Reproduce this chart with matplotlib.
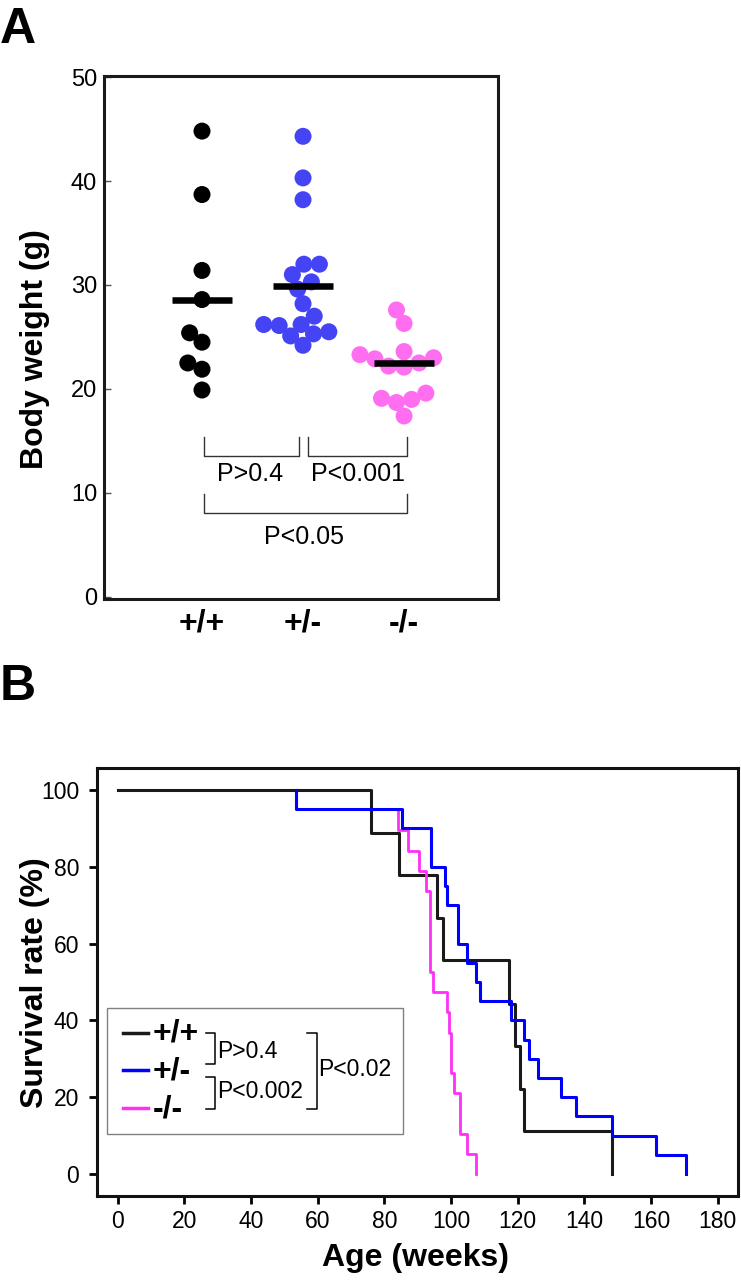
import numpy as np
import matplotlib
matplotlib.use('Agg')
import matplotlib.pyplot as plt
from matplotlib.patches import Rectangle
from matplotlib.lines import Line2D

plt.rcParams['font.family'] = ['Liberation Sans', 'DejaVu Sans']

# ---- panel A: body weight per genotype ----
genotypes = ['+/+', '+/-', '-/-']
weight_wt = [44.8, 38.7, 31.4, 28.6, 25.4, 24.5, 22.5, 21.9, 19.9]
weight_het = [44.3, 40.3, 38.2, 32.0, 32.0, 31.0, 30.3, 29.6, 28.2, 27.0,
              26.2, 26.2, 26.1, 25.5, 25.3, 25.1, 24.2]
weight_ko = [27.6, 26.3, 23.6, 23.3, 23.0, 22.9, 22.5, 22.2, 22.1,
             19.6, 19.1, 19.0, 18.7, 17.4]
weight_means = [28.6, 29.9, 22.5]

# ---- panel B: survival curves (Kaplan-Meier steps) ----
wt_weeks = [0, 76.0, 84.5, 95.9, 97.7, 117.3, 119.2, 120.7, 122.0, 148.2]
wt_surv = [100, 88.9, 77.8, 66.7, 55.6, 44.4, 33.3, 22.2, 11.1, 0]
het_weeks = [53.5, 53.5, 85.2, 94.0, 98.2, 98.7, 102.0, 104.7, 107.4, 108.7,
             118.0, 122.0, 123.4, 126.2, 132.9, 137.5, 148.4, 161.5, 170.4]
het_surv = [100, 95, 90, 80, 75, 70, 60, 55, 50, 45,
            40, 35, 30, 25, 20, 15, 10, 5, 0]
ko_weeks = [84.0, 84.0, 87.2, 90.5, 92.5, 93.7, 94.5, 98.7, 99.4, 100.0,
            100.9, 102.7, 104.9, 107.5]
ko_surv = [94.7, 89.5, 84.2, 78.9, 73.7, 52.6, 47.4, 42.1, 36.8, 26.3,
           21.1, 10.5, 5.3, 0]

W, H = 741, 1280


def fx(px):
    return px / W


def fy(py):
    return 1 - py / H


def swarm_offsets(vals, yscale, xscale, gap):
    """simple beeswarm: place each point nearest the centre without overlap"""
    ys = np.asarray(vals) * yscale
    placed = []
    offs = np.zeros(len(ys))
    for i in np.argsort(ys):
        y = ys[i]
        cands = [0.0]
        for px, py in placed:
            dy = abs(y - py)
            if dy < gap:
                dx = np.sqrt(gap ** 2 - dy ** 2)
                cands += [px - dx, px + dx]
        cands.sort(key=abs)
        for c in cands:
            if all((c - px) ** 2 + (y - py) ** 2 >= gap ** 2 - 1e-6 for px, py in placed):
                offs[i] = c
                placed.append((c, y))
                break
    return offs / xscale


fig = plt.figure(figsize=(W / 100, H / 100), dpi=100)

# ================= Panel A =================
axA = fig.add_axes([fx(104), fy(599), fx(498 - 104), (599 - 76) / H])
axA.set_xlim(-0.97, 2.93)
axA.set_ylim(-0.2, 50.1)

dot_colors = ['#000000', '#4444f4', '#ff6ef0']
for i, (vals, col) in enumerate(zip([weight_wt, weight_het, weight_ko], dot_colors)):
    offs = swarm_offsets(vals, 10.4, 101.0, 15.5)
    axA.scatter(i + offs, vals, s=150, color=col, edgecolors='none', zorder=2)
    axA.plot([i - 0.3, i + 0.3], [weight_means[i]] * 2, color='black',
             lw=4.7, solid_capstyle='butt', zorder=3)

# significance brackets
br = dict(color='#333333', lw=1.0)
axA.plot([0.02, 0.02, 0.96, 0.96], [15.4, 13.6, 13.6, 15.4], **br)
axA.plot([1.05, 1.05, 2.03, 2.03], [15.4, 13.6, 13.6, 15.4], **br)
axA.plot([0.02, 0.02, 2.03, 2.03], [9.9, 8.1, 8.1, 9.9], **br)
axA.text(0.475, 11.8, 'P>0.4', ha='center', va='center', fontsize=18)
axA.text(1.545, 11.8, 'P<0.001', ha='center', va='center', fontsize=18)
axA.text(1.01, 5.8, 'P<0.05', ha='center', va='center', fontsize=18)

axA.set_yticks([0, 10, 20, 30, 40, 50])
axA.tick_params(axis='y', direction='in', length=5, width=1, color='#555555',
                labelsize=17, pad=5)
axA.set_xticks([0, 1, 2])
axA.set_xticklabels(genotypes, fontsize=23, fontweight='bold')
axA.tick_params(axis='x', length=0, pad=7)
for sp in axA.spines.values():
    sp.set_linewidth(2.2)
    sp.set_color('#1a1a1a')

fig.text(fx(35), fy(349), 'Body weight (g)', rotation=90, ha='center',
         va='center', fontsize=23, fontweight='bold')
fig.text(0, fy(43), 'A', ha='left', va='baseline', fontsize=36, fontweight='bold')

# ================= Panel B =================
axB = fig.add_axes([fx(97), fy(1196), fx(738 - 97), (1196 - 768) / H])
axB.set_xlim(-6.2, 186.1)
axB.set_ylim(-5.7, 105.7)

axB.step(wt_weeks, wt_surv, where='post', color='#1a1a1a', lw=2.2, zorder=2)
axB.step(ko_weeks, ko_surv, where='post', color='#ff30f5', lw=2.0, zorder=3)
axB.step(het_weeks, het_surv, where='post', color='#0000ff', lw=2.2, zorder=4)

axB.set_xticks(np.arange(0, 181, 20))
axB.set_yticks(np.arange(0, 101, 20))
axB.tick_params(axis='both', direction='out', length=5.8, width=2,
                labelsize=16.5)
axB.tick_params(axis='y', pad=7)
axB.tick_params(axis='x', pad=4)
for sp in axB.spines.values():
    sp.set_linewidth(2.2)
    sp.set_color('#111111')

fig.text(fx(35), fy(983), 'Survival rate (%)', rotation=90, ha='center',
         va='center', fontsize=23, fontweight='bold')
fig.text(fx(416), fy(1258), 'Age (weeks)', ha='center', va='center',
         fontsize=23, fontweight='bold')
fig.text(0, fy(700), 'B', ha='left', va='baseline', fontsize=36, fontweight='bold')

# hand-made legend with log-rank p values
fig.add_artist(Rectangle((fx(107), fy(1134)), fx(403 - 107), (1134 - 1008) / H,
                         transform=fig.transFigure, facecolor='white',
                         edgecolor='#808080', lw=1.0))
leg_cols = ['#1a1a1a', '#0000ff', '#ff30f5']
leg_y = [1033, 1070, 1108]
for lab, col, y in zip(genotypes, leg_cols, leg_y):
    fig.add_artist(Line2D([fx(123), fx(148)], [fy(y), fy(y)], color=col, lw=2.5,
                          transform=fig.transFigure))
    fig.text(fx(153), fy(y + 1), lab, ha='left', va='center', fontsize=23,
             fontweight='bold')


def bracket(x0, x1, y0, y1):
    fig.add_artist(Line2D([fx(x0), fx(x1), fx(x1), fx(x0)],
                          [fy(y0), fy(y0), fy(y1), fy(y1)], color='black',
                          lw=1.1, transform=fig.transFigure))


bracket(206, 215, 1033, 1064)
bracket(206, 215, 1077, 1109)
bracket(307, 317, 1033, 1109)
fig.text(fx(217), fy(1051), 'P>0.4', ha='left', va='center', fontsize=16.5)
fig.text(fx(217), fy(1092), 'P<0.002', ha='left', va='center', fontsize=16.5)
fig.text(fx(318), fy(1069), 'P<0.02', ha='left', va='center', fontsize=16.5)

fig.savefig('out.png', dpi=100)
